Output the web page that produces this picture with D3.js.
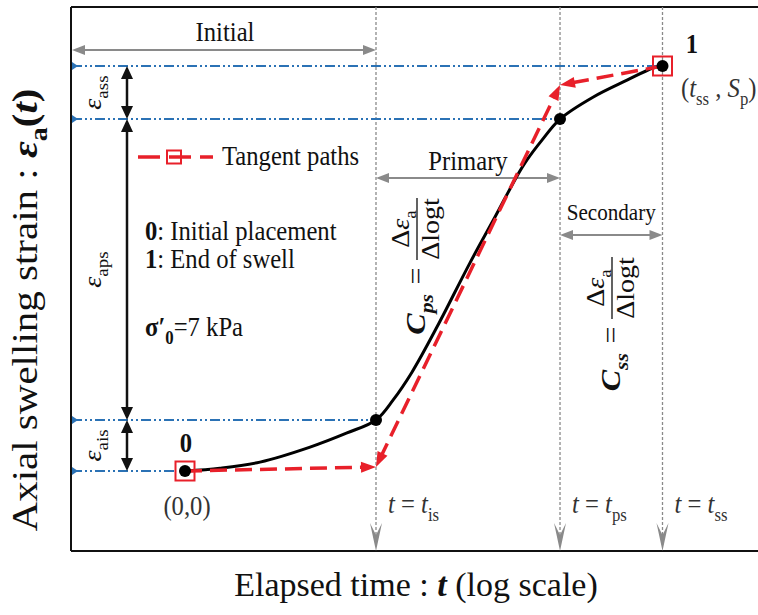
<!DOCTYPE html>
<html><head><meta charset="utf-8">
<script src="https://cdn.jsdelivr.net/npm/d3@7"></script>
<style>body{margin:0;background:#fff}svg{display:block}</style>
</head><body><svg id="c" width="758" height="615"></svg>
<script>
// ---------- data ----------
const curveTime   = [1, 2.32, 6.1, 20.4, 49.7, 100, 150.7, 238, 436, 964, 1762, 2992, 3811, 5470, 8450, 18700, 42500, 79600, 100000];
const curveStrain = [0, 0.07, 0.22, 0.59, 0.94, 1.26, 1.75, 2.44, 3.56, 5.14, 6.27, 7.28, 7.68, 8.17, 8.69, 9.23, 9.65, 9.95, 10];
const stageTimes  = [100, 8450, 100000];          // t_is, t_ps, t_ss
const stageSubs   = ["is", "ps", "ss"];
const keyTime     = [1, 100, 8450, 100000];        // points 0, is, ps, 1
const keyStrain   = [0, 1.26, 8.69, 10];
const tangentTime   = [1, 100, 8450, 100000];
const tangentStrain = [0, 0.1, 9.53, 10];
const compSubs    = ["ais", "aps", "ass"];
const phaseLabels = ["Initial", "Primary", "Secondary"];

// ---------- setup ----------
const FONT = "'Liberation Serif','Times New Roman',serif";
const SQ = 0.88;
const RED = "#e8202a", BLUE = "#2b72b5", GRAY = "#8a8a8a";
const svg = d3.select("#c");
const L = 71, R = 758, T = 7, B = 551;
const x = d3.scaleLog().domain([1, 1e5]).range([185, 662.5]);
const y = d3.scaleLinear().domain([0, 10]).range([471, 66]);

function tri(g, x1, y1, x2, y2, len, wid, color) {
  const a = Math.atan2(y2 - y1, x2 - x1), c = Math.cos(a), s = Math.sin(a);
  const bx = x2 - c * len, by = y2 - s * len;
  g.append("path").attr("d",
    `M${x2},${y2}L${bx - s * wid / 2},${by + c * wid / 2}L${bx + s * wid / 2},${by - c * wid / 2}Z`)
    .attr("fill", color);
}
function seg(g, x1, y1, x2, y2, o) {
  const a = Math.atan2(y2 - y1, x2 - x1), c = Math.cos(a), s = Math.sin(a);
  const k = o.len * 0.6;
  const sx = o.start ? x1 + c * k : x1, sy = o.start ? y1 + s * k : y1;
  const ex = o.end ? x2 - c * k : x2, ey = o.end ? y2 - s * k : y2;
  g.append("line").attr("x1", sx).attr("y1", sy).attr("x2", ex).attr("y2", ey)
    .attr("stroke", o.color).attr("stroke-width", o.w).attr("stroke-dasharray", o.dash || null);
  if (o.end) tri(g, x1, y1, x2, y2, o.len, o.wid, o.color);
  if (o.start) tri(g, x2, y2, x1, y1, o.len, o.wid, o.color);
}
function rich(parent, px, py, parts, o = {}) {
  const size = o.size || 28;
  const t = parent.append("text").attr("x", px).attr("y", py)
    .attr("font-family", FONT).attr("font-size", size)
    .attr("text-anchor", o.anchor || "start").attr("fill", o.fill || "#111");
  let shifted = 0;
  parts.forEach(p => {
    const s = t.append("tspan").text(p.t);
    if (p.b) s.attr("font-weight", "bold");
    if (p.i) s.attr("font-style", "italic");
    const target = p.sub ? size * 0.28 : 0;
    if (target !== shifted) { s.attr("dy", target - shifted); shifted = target; }
    if (p.sub) s.attr("font-size", size * 0.68);
  });
  return t;
}
function grp(px, py, rot = 0, sq = SQ) {
  return svg.append("g").attr("transform", `translate(${px},${py}) scale(${sq},1) rotate(${rot})`);
}

// ---------- frame ----------
const fr = svg.append("g").attr("stroke", "#111").attr("stroke-width", 2);
fr.append("line").attr("x1", L).attr("x2", R).attr("y1", T).attr("y2", T);
fr.append("line").attr("x1", L).attr("x2", R).attr("y1", B).attr("y2", B);
fr.append("line").attr("x1", L).attr("x2", L).attr("y1", T).attr("y2", B);

// ---------- vertical stage lines ----------
const vg = svg.append("g");
stageTimes.forEach(t => {
  const xx = x(t);
  vg.append("line").attr("x1", xx).attr("x2", xx).attr("y1", T).attr("y2", B - 10)
    .attr("stroke", GRAY).attr("stroke-width", 1.3).attr("stroke-dasharray", "3,2");
  vg.append("path").attr("d", `M${xx},${B}L${xx - 6},${B - 28}L${xx},${B - 16}L${xx + 6},${B - 28}Z`).attr("fill", GRAY);
});

// ---------- blue level lines ----------
const bg = svg.append("g");
keyStrain.forEach((v, i) => {
  const yy = y(v);
  const xe = i === 0 ? x(keyTime[0]) - 10 : x(keyTime[i]);
  bg.append("line").attr("x1", L + 1).attr("x2", xe).attr("y1", yy).attr("y2", yy)
    .attr("stroke", BLUE).attr("stroke-width", 2).attr("stroke-dasharray", "10,3,2,3,2,3");
  bg.append("path").attr("d", `M${L + 1},${yy - 4}L${L + 7},${yy}L${L + 1},${yy + 4}Z`).attr("fill", BLUE);
});

// ---------- black component arrows ----------
const ag = svg.append("g");
for (let i = 0; i < 3; i++) {
  seg(ag, 127, y(keyStrain[i]), 127, y(keyStrain[i + 1]), { color: "#111", w: 2.5, len: 13, wid: 12, start: true, end: true });
  const g = grp(101, (y(keyStrain[i]) + y(keyStrain[i + 1])) / 2, -90);
  rich(g, 0, 0, [{ t: "ε", i: true }, { t: compSubs[i], sub: true }], { anchor: "middle", size: 28 });
}

// ---------- phase arrows ----------
const phaseX = [[L + 1, x(stageTimes[0])], [x(stageTimes[0]), x(stageTimes[1])], [x(stageTimes[1]), x(stageTimes[2])]];
const phaseY = [50, 178, 235];
const phaseTextY = [41, 170, 220];
const phaseSize = [28, 28, 24];
phaseLabels.forEach((lab, i) => {
  seg(svg, phaseX[i][0], phaseY[i], phaseX[i][1], phaseY[i], { color: GRAY, w: 2, len: 13, wid: 10, start: true, end: true });
  const cx = i === 0 ? 225 : (phaseX[i][0] + phaseX[i][1]) / 2;
  rich(grp(cx, phaseTextY[i]), 0, 0, [{ t: lab }], { anchor: "middle", size: phaseSize[i] });
});

// ---------- curve ----------
const curve = curveTime.map((t, i) => [t, curveStrain[i]]);
svg.append("path").datum(curve)
  .attr("d", d3.line().x(d => x(d[0])).y(d => y(d[1])).curve(d3.curveCatmullRom.alpha(0.5)))
  .attr("fill", "none").attr("stroke", "#000").attr("stroke-width", 3);

// ---------- tangent paths ----------
const tp = tangentTime.map((t, i) => [x(t), y(tangentStrain[i])]);
const ro = { color: RED, w: 3.5, len: 15, wid: 11, dash: "17,8" };
seg(svg, tp[0][0], tp[0][1], tp[1][0], tp[1][1], { ...ro, end: true });
seg(svg, tp[1][0], tp[1][1], tp[2][0], tp[2][1], { ...ro, start: true, end: true });
seg(svg, tp[3][0], tp[3][1], tp[2][0], tp[2][1], { ...ro, end: true });

// ---------- key points ----------
keyTime.forEach((t, i) => {
  svg.append("circle").attr("cx", x(t)).attr("cy", y(keyStrain[i])).attr("r", 6).attr("fill", "#000");
});
[0, 3].forEach(i => {
  svg.append("rect").attr("x", x(keyTime[i]) - 9.5).attr("y", y(keyStrain[i]) - 9.5)
    .attr("width", 19).attr("height", 19).attr("fill", "none").attr("stroke", RED).attr("stroke-width", 2);
});

// ---------- point labels ----------
rich(grp(186, 452), 0, 0, [{ t: "0", b: true }], { anchor: "middle" });
rich(grp(187, 515), 0, 0, [{ t: "(0,0)" }], { anchor: "middle", fill: "#333" });
rich(grp(692, 53), 0, 0, [{ t: "1", b: true }], { anchor: "middle" });
rich(grp(681, 97), 0, 0, [{ t: "(" }, { t: "t", i: true }, { t: "ss", sub: true }, { t: " , " }, { t: "S", i: true }, { t: "p", sub: true }, { t: ")" }], { fill: "#333" });

// ---------- stage labels ----------
stageTimes.forEach((t, i) => {
  rich(grp(x(t) + 12, 513), 0, 0, [{ t: "t", i: true }, { t: " = " }, { t: "t", i: true }, { t: stageSubs[i], sub: true }], { fill: "#333" });
});

// ---------- legend & notes ----------
svg.append("line").attr("x1", 138).attr("x2", 213).attr("y1", 157).attr("y2", 157)
  .attr("stroke", RED).attr("stroke-width", 3.5).attr("stroke-dasharray", "22,9");
svg.append("rect").attr("x", 167).attr("y", 150.5).attr("width", 14).attr("height", 13)
  .attr("fill", "none").attr("stroke", RED).attr("stroke-width", 2);
rich(grp(222, 165), 0, 0, [{ t: "Tangent paths" }]);
rich(grp(145, 240), 0, 0, [{ t: "0", b: true }, { t: ": Initial placement" }]);
rich(grp(145, 268), 0, 0, [{ t: "1", b: true }, { t: ": End of swell" }]);
rich(grp(145, 336), 0, 0, [{ t: "σ′", b: true }, { t: "0", b: true, sub: true }, { t: "=7 kPa" }]);

// ---------- rotated equations ----------
function equation(px, py, sub) {
  const g = grp(px, py, -90);
  rich(g, -18, 9, [{ t: "C", b: true, i: true }, { t: sub, b: true, i: true, sub: true }], { anchor: "end", size: 32 });
  rich(g, 0, 9, [{ t: "=" }], { anchor: "middle", size: 30 });
  g.append("line").attr("x1", 16).attr("x2", 78).attr("y1", 0).attr("y2", 0).attr("stroke", "#111").attr("stroke-width", 1.5);
  rich(g, 47, -9, [{ t: "Δ" }, { t: "ε", i: true }, { t: "a", sub: true }], { anchor: "middle", size: 28 });
  rich(g, 47, 25, [{ t: "Δlog" }, { t: "t" }], { anchor: "middle", size: 28 });
}
equation(417, 276, "ps");
equation(612, 335, "ss");

// ---------- axis titles ----------
rich(grp(37, 310, -90), 0, 0, [{ t: "Axial swelling strain : " }, { t: "ε", b: true, i: true }, { t: "a", b: true, sub: true }, { t: "(", b: true }, { t: "t", b: true, i: true }, { t: ")", b: true }], { anchor: "middle", size: 41 });
rich(svg, 416, 596, [{ t: "Elapsed time : " }, { t: "t", b: true, i: true }, { t: " (log scale)" }], { anchor: "middle", size: 34 });
</script></body></html>
